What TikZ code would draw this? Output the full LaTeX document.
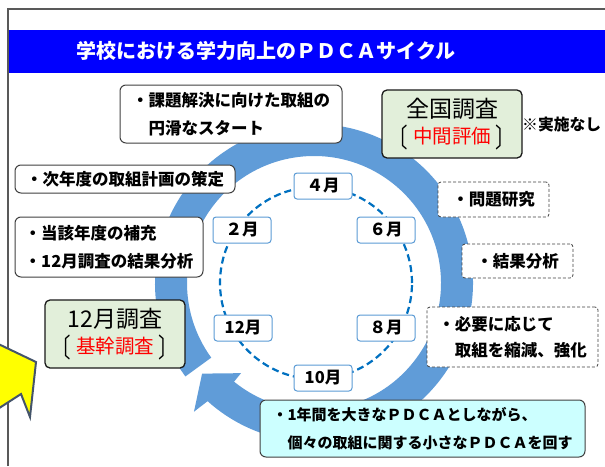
\documentclass[tikz,border=0pt]{standalone}
\usepackage{fontspec}
\setmainfont{Noto Sans CJK JP}
\usepackage{xcolor}
\usepackage{graphicx}
\usepackage{tikz}

\definecolor{titleblue}{RGB}{0,0,255}
\definecolor{ringblue}{RGB}{96,156,216}
\definecolor{dashblue}{RGB}{0,112,192}
\definecolor{monthline}{RGB}{91,155,213}
\definecolor{surveygreen}{RGB}{226,239,218}
\definecolor{notecyan}{RGB}{204,255,255}
\definecolor{framegray}{RGB}{89,89,89}
\definecolor{arrowyellow}{RGB}{255,255,0}
\definecolor{arrowedge}{RGB}{68,84,106}

\newcommand{\brkopen}{\raisebox{-0.2em}{\scalebox{1}[1.35]{〔}}}
\newcommand{\brkclose}{\raisebox{-0.2em}{\scalebox{1}[1.35]{〕}}}

\begin{document}
\begin{tikzpicture}[x=1pt,y=1pt,
	month/.style={draw=monthline, line width=1pt, fill=white, rounded corners=3pt, minimum width=58pt, minimum height=26pt, font=\fontsize{16.5}{18}\selectfont\bfseries},
	memo/.style={draw=black!75, line width=1pt, fill=white, rounded corners=6pt, align=left, font=\fontsize{16.5}{28}\selectfont\bfseries},
	task/.style={draw=black!75, line width=0.8pt, dash pattern=on 3pt off 2pt, fill=white, rounded corners=3pt, align=left, font=\fontsize{16.5}{26}\selectfont\bfseries},
	survey/.style={draw=black!90, line width=1.3pt, fill=surveygreen, rounded corners=5pt, align=center, minimum width=140pt, minimum height=68pt, font=\fontsize{23}{26}\selectfont}]
		\tikzstyle{every node}+=[inner sep=0pt]
		\useasboundingbox (0,0) rectangle (605,-466);
		\clip (0,0) rectangle (605,-466);
		\draw [framegray, line width=1.5pt] (8,-466) -- (8,-9) -- (605,-9);
		\fill [titleblue] (8.75,-30) rectangle (605,-73);
		\node [text=white, font=\fontsize{20}{24}\selectfont\bfseries] (title) at (266,-51) {学校における学力向上のＰＤＣＡサイクル};
		\filldraw [fill=arrowyellow, draw=arrowedge, line width=2pt] (-10,-340) -- (36,-362) -- (30,-417) -- (21,-394) -- (-10,-414) -- cycle;
		\begin{scope}[shift={(314,-283)}]
			\fill [ringblue] (216:127) -- (216:159) arc [start angle=216, end angle=-132, radius=159] -- (-133:176) -- (-141:144) -- (-129:116) -- (-129:127) arc [start angle=-129, end angle=216, radius=127] -- cycle;
		\end{scope}
		\draw [dashblue, line width=2.2pt, dash pattern=on 7pt off 4pt] (316,-283) circle [radius=96];
		\node [month] (apr) at (323,-186) {４月};
		\node [month] (jun) at (386,-230) {６月};
		\node [month] (aug) at (386,-328) {８月};
		\node [month] (oct) at (323,-378) {10月};
		\node [month] (dec) at (243,-328) {12月};
		\node [month] (feb) at (242,-230) {２月};
		\node [memo, minimum width=222pt, minimum height=58pt] (start) at (231,-114) {・課題解決に向けた取組の\\　円滑なスタート};
		\node [survey] (national) at (452,-124) {全国調査\\{\fontsize{19.5}{26}\selectfont\brkopen\hspace{0.25em}\textcolor{red}{中間評価}\hspace{0.25em}\brkclose}};
		\node [anchor=west, font=\fontsize{15.8}{20}\selectfont\bfseries] (none) at (522,-125) {※実施なし};
		\node [memo, minimum width=220pt, minimum height=28pt] (plan) at (125,-179) {・次年度の取組計画の策定};
		\node [memo, minimum width=188pt, minimum height=60pt] (supply) at (109,-247) {・当該年度の補充\\・12月調査の結果分析};
		\node [survey] (december) at (115,-334) {12月調査\\{\fontsize{19.5}{26}\selectfont\brkopen\hspace{0.25em}\textcolor{red}{基幹調査}\hspace{0.25em}\brkclose}};
		\node [task, minimum width=111pt, minimum height=35pt] (study) at (493.5,-199.5) {・問題研究};
		\node [task, minimum width=111pt, minimum height=34pt] (analysis) at (517.5,-261) {・結果分析};
		\node [task, minimum width=171pt, minimum height=60pt] (adjust) at (512.5,-337) {・必要に応じて\\　取組を縮減、強化};
		\node [memo, fill=notecyan, minimum width=325pt, minimum height=57pt, font=\fontsize{15}{28}\selectfont\bfseries] (cycle) at (422.5,-428.5) {・1年間を大きなＰＤＣＡとしながら、\\　個々の取組に関する小さなＰＤＣＡを回す};
\end{tikzpicture}
\end{document}
